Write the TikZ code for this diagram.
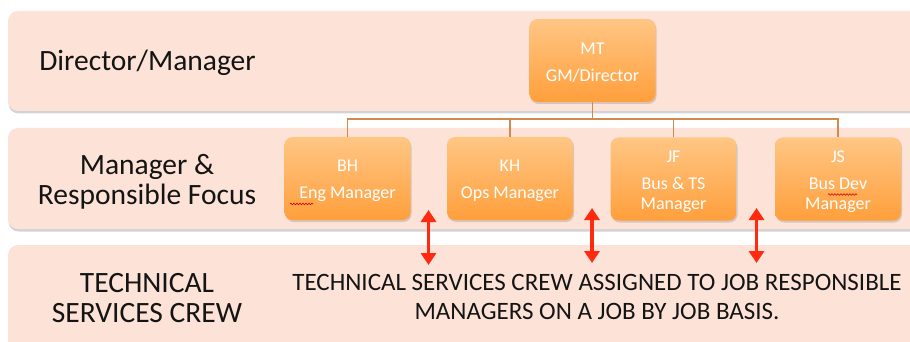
\documentclass[tikz,border=0pt]{standalone}
\usepackage{fontspec}
\setmainfont{Carlito}
\usetikzlibrary{shadows,arrows.meta,decorations.pathmorphing}
\definecolor{bandfill}{HTML}{FDE3D7}
\definecolor{boxtop}{HTML}{FFC684}
\definecolor{boxbot}{HTML}{FF9F3C}
\definecolor{connc}{HTML}{D08A4E}
\definecolor{arrc}{HTML}{FF2A10}
\tikzset{
  band/.style={fill=bandfill, rounded corners=10pt, draw=none,
    drop shadow={opacity=0.35, shadow xshift=0.5pt, shadow yshift=-2.5pt, fill=gray}},
  mgr/.style={rounded corners=8pt, top color=boxtop, bottom color=boxbot, draw=none,
    minimum width=126pt, minimum height=83pt, inner sep=0pt,
    drop shadow={opacity=0.3, shadow xshift=1pt, shadow yshift=-2pt, fill=gray}},
  mgrtxt/.style={text=white, align=center, inner sep=0pt,
    font=\fontsize{18}{20}\selectfont},
  lbl/.style={align=center, text=black!92, font=\fontsize{29.5}{30}\selectfont},
  bigtxt/.style={align=center, text=black!92, font=\fontsize{25}{29}\selectfont},
  conn/.style={draw=connc, line width=1.2pt},
  dbl/.style={draw=arrc, line width=3.4pt,
    {Triangle[width=15pt,length=12pt]}-{Triangle[width=15pt,length=12pt]}},
  squig/.style={draw=red!85!black, line width=0.6pt,
    decorate, decoration={snake, amplitude=0.8pt, segment length=3pt}}
}
\begin{document}
\begin{tikzpicture}[x=1pt,y=-1pt]
\useasboundingbox (0,0) rectangle (910,342);
\clip (0,0) rectangle (910,342);
% bands
\path[band] (8,11) rectangle (940,111);
\path[band] (8,128) rectangle (940,229);
\path[band] (8,245) rectangle (940,380);
% left labels
\node[lbl] (l1) at (147.5,63) {Director/Manager};
\node[lbl] (l2) at (147,181.5) {Manager \&\\Responsible Focus};
\node[lbl] (l3) at (147,298) {TECHNICAL\\SERVICES CREW};
% boxes
\node[mgr] (mt) at (592.5,60.5) {};
\node[mgr] (bh) at (347.5,178.5) {};
\node[mgr] (kh) at (510,178.5) {};
\node[mgr] (jf) at (673.5,179) {};
\node[mgr] (js) at (838,179) {};
\node[mgrtxt] (mtt) at ([yshift=-2pt]mt.center) {MT\\[7pt]GM/Director};
\node[mgrtxt] (bht) at ([yshift=-2.5pt]bh.center) {BH\\[7pt]Eng Manager};
\node[mgrtxt] (kht) at ([yshift=-2.5pt]kh.center) {KH\\[7pt]Ops Manager};
\node[mgrtxt] (jft) at ([yshift=-2.5pt]jf.center) {JF\\[7pt]Bus \& TS\\Manager};
\node[mgrtxt] (jst) at ([yshift=-2.5pt]js.center) {JS\\[7pt]Bus Dev\\Manager};
% connectors
\coordinate (bus) at (592.5,119);
\draw[conn] (mt.south) -- (bus);
\draw[conn] (bh.north) |- (bus);
\draw[conn] (kh.north) |- (bus);
\draw[conn] (jf.north) |- (bus);
\draw[conn] (js.north) |- (bus);
% spelling squiggles
\coordinate (sq1a) at (290,204);
\coordinate (sq1b) at (313,204);
\draw[squig] (sq1a) -- (sq1b);
\coordinate (sq2a) at (828,194.5);
\coordinate (sq2b) at (857,194.5);
\draw[squig] (sq2a) -- (sq2b);
% arrows
\coordinate (a1t) at (428.5,210);
\coordinate (a1b) at (428.5,265);
\coordinate (a2t) at (592,208);
\coordinate (a2b) at (592,263);
\coordinate (a3t) at (756.5,208);
\coordinate (a3b) at (756.5,263);
\draw[dbl] (a1t) -- (a1b);
\draw[dbl] (a2t) -- (a2b);
\draw[dbl] (a3t) -- (a3b);
% main text
\node[bigtxt] (crew) at (597,297) {TECHNICAL SERVICES CREW ASSIGNED TO JOB RESPONSIBLE\\MANAGERS ON A JOB BY JOB BASIS.};
\end{tikzpicture}
\end{document}
